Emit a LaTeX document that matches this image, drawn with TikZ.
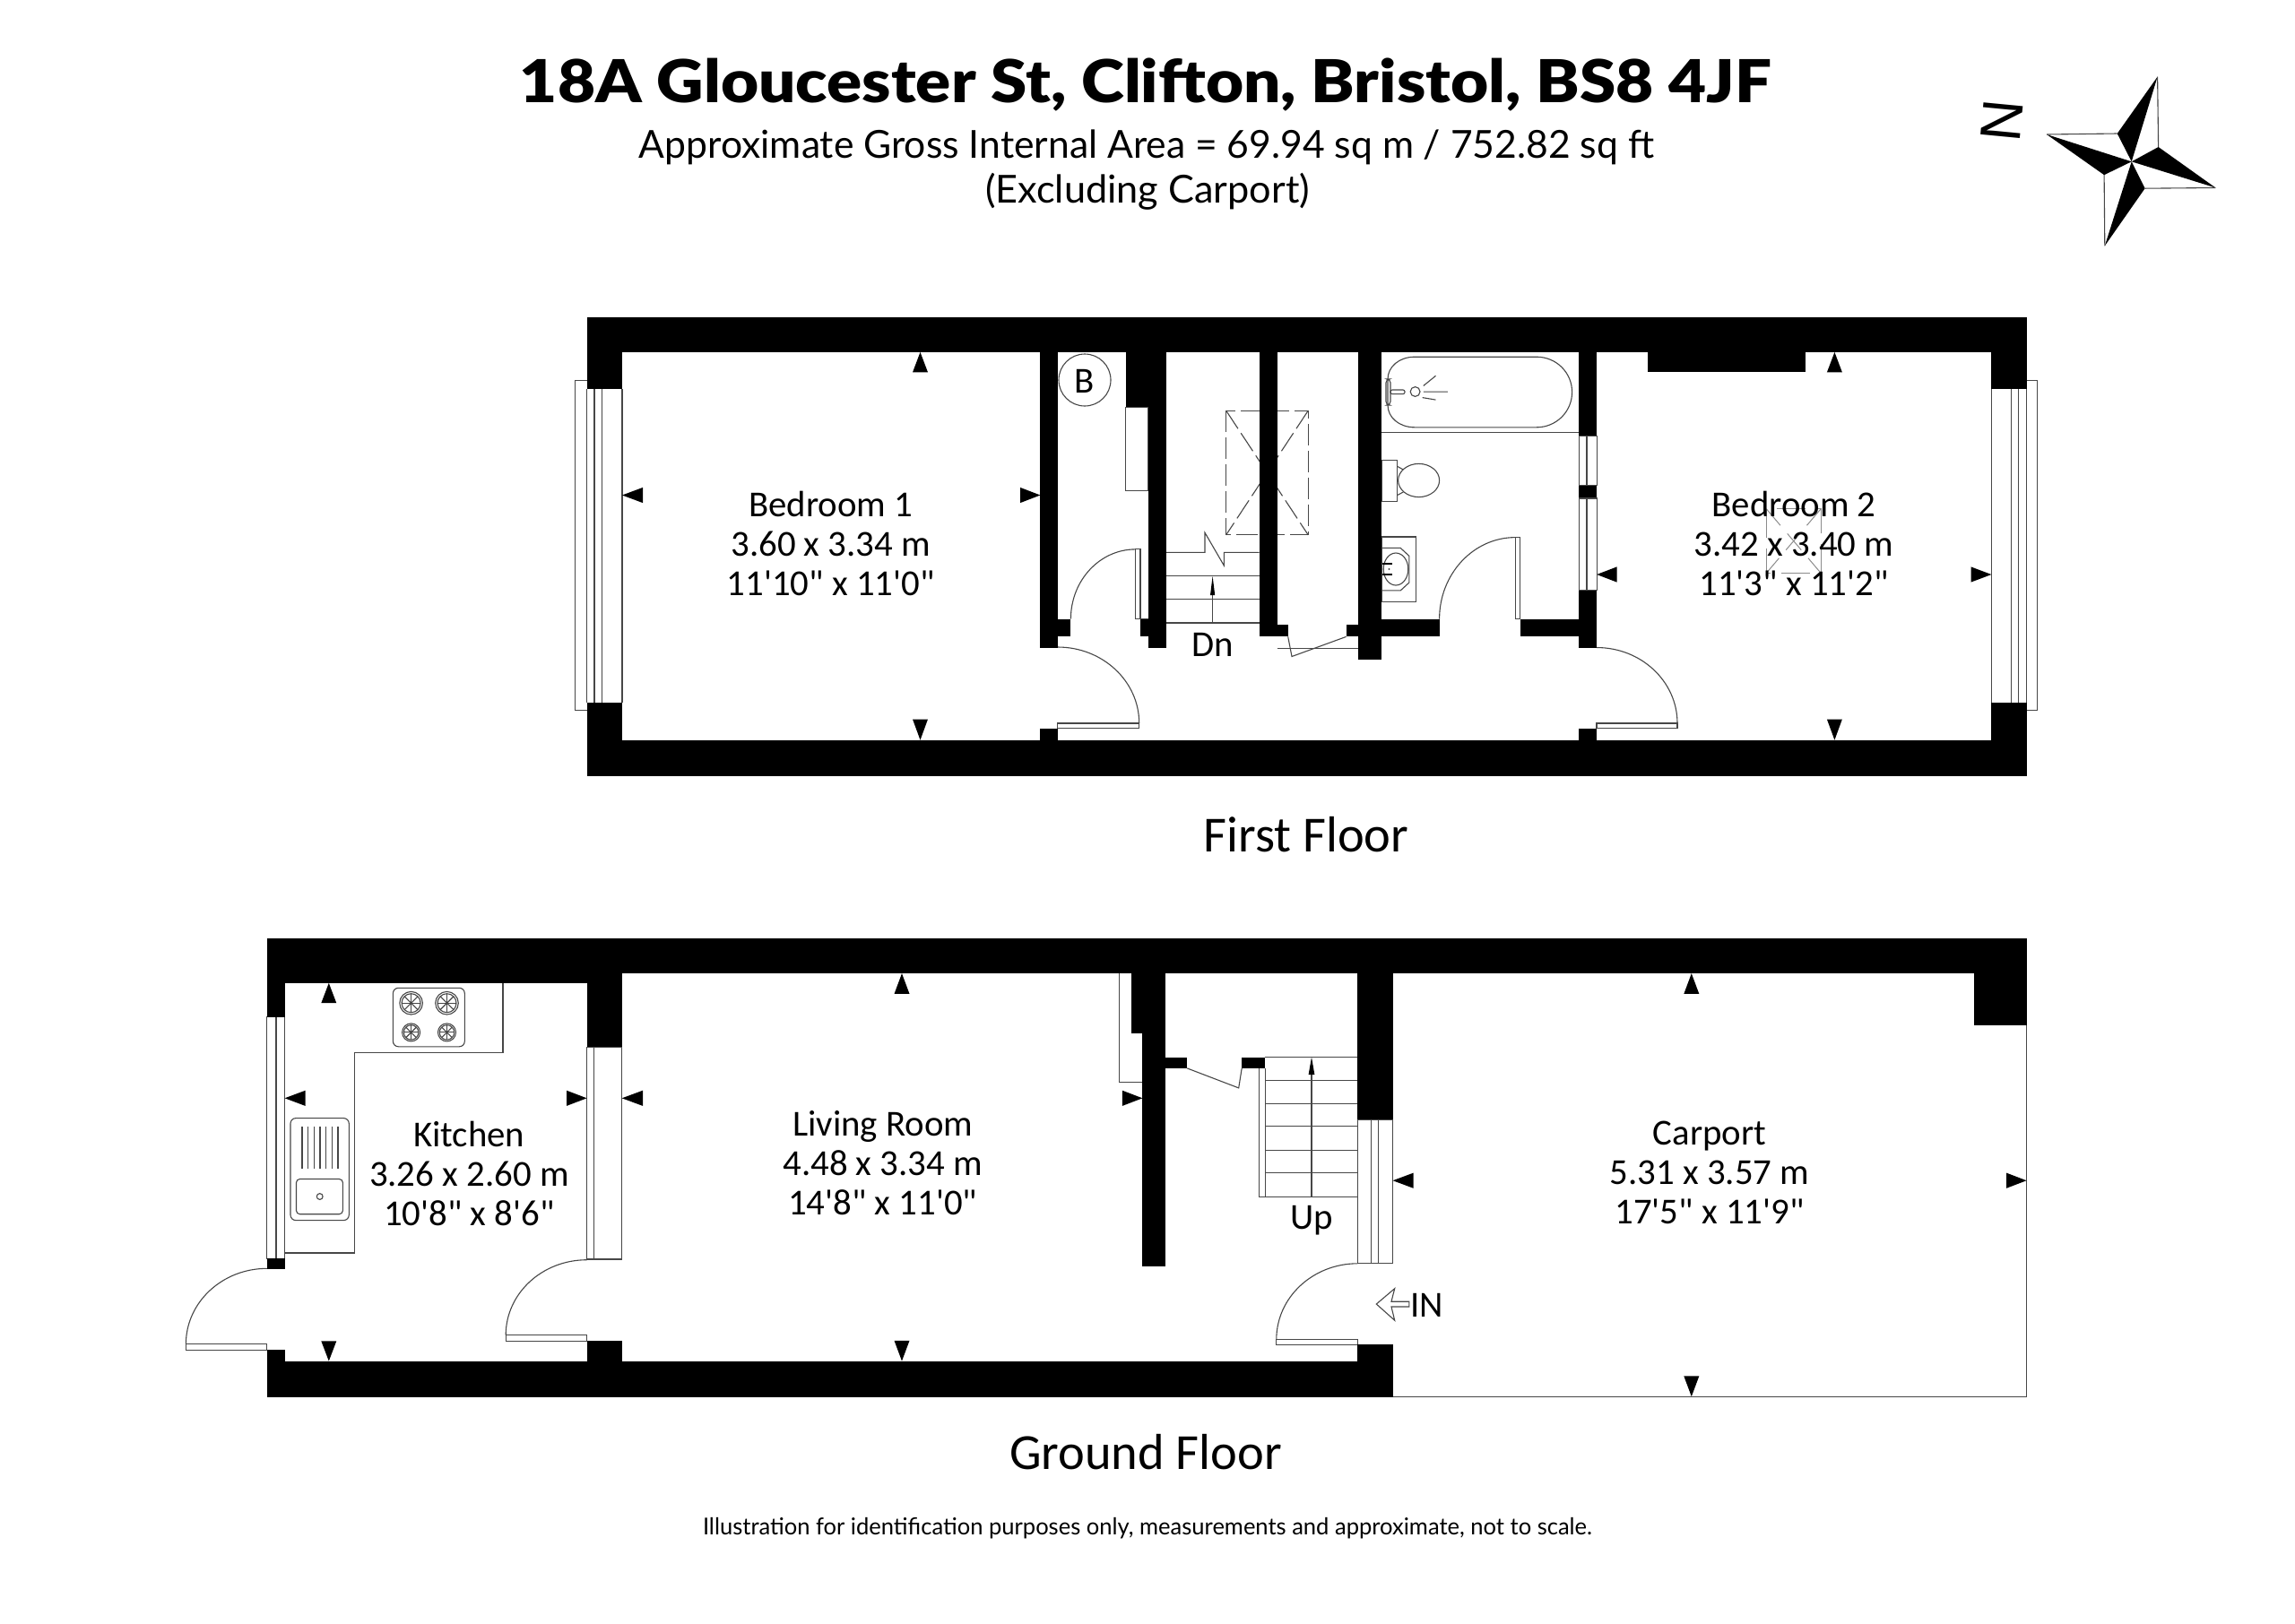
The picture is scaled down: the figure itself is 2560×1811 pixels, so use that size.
\documentclass[tikz,border=0pt]{standalone}
\usepackage{graphicx}
\usepackage{fontspec}
\setmainfont[Ligatures=TeXOff]{Carlito}
\newfontfamily\gillb{Lato Black}
\newfontfamily\gillr{Lato}
\newfontfamily\arialf{Liberation Sans}
\newcommand{\fitw}[2]{\resizebox{#1pt}{\height}{#2}}
% quarter ellipse: leaves (x1,y1) horizontally, arrives at (x2,y2) vertically
\newcommand{\qarc}[4]{\draw[thin line] (#1,#2) .. controls ({#1+0.5523*(#3-#1)},#2) and (#3,{#4-0.5523*(#4-#2)}) .. (#3,#4);}
% dimension arrowheads
\newcommand{\arV}[3]{\fill[wall] (#1,#2) -- ({#1-8.5},#3) -- ({#1+8.5},#3) -- cycle;}
\newcommand{\arH}[3]{\fill[wall] (#1,#3) -- (#2,{#3-8.6}) -- (#2,{#3+8.6}) -- cycle;}
\newcommand{\burner}[3]{%
  \draw[thin line] (#1,#2) circle[radius=#3];
  \draw[thin line] (#1,#2) circle[radius={#3*0.82}];
  \foreach \a in {0,45,...,315}{\draw[thin line] (#1,#2) -- ++(\a:{#3*0.82});}
}
\tikzset{
  wall/.style={fill=black},
  thin line/.style={draw=black!72,line width=0.55pt},
  roomlabel/.style={font=\fontsize{20.4}{22}\selectfont,align=center,inner sep=0pt,text=black},
  floorlabel/.style={font=\fontsize{28.2}{30}\selectfont,inner sep=0pt},
  dashline/.style={draw=black!72,line width=0.55pt,dash pattern=on 12pt off 3pt},
}
\begin{document}
\begin{tikzpicture}[x=0.5pt,y=-0.5pt]
\useasboundingbox (0,0) rectangle (2560,1811);
\fill[white] (0,0) rectangle (2560,1811);

% ---- titles
\node[inner sep=0pt,font=\gillb\fontsize{33}{36}\selectfont] (title) at (1278,95) {\fitw{698}{18A Gloucester St, Clifton, Bristol, BS8 4JF}};
\node[inner sep=0pt,font=\gillr\fontsize{21.5}{24}\selectfont] (area) at (1279,164) {\fitw{566}{Approximate Gross Internal Area = 69.94 sq m / 752.82 sq ft}};
\node[inner sep=0pt,font=\gillr\fontsize{21.5}{24}\selectfont] (excl) at (1280,214) {\fitw{181}{(Excluding Carport)}};
\node[inner sep=0pt,font=\gillr\fontsize{13}{15}\selectfont] (foot) at (1280,1705) {\fitw{496}{Illustration for identification purposes only, measurements and approximate, not to scale.}};

% ---- compass
\fill[black] (2377.7,180.3) -- (2406.6,85.6) -- (2361.7,149) -- cycle;
\fill[black] (2377.7,180.3) -- (2283,150) -- (2347.1,195.2) -- cycle;
\fill[black] (2377.7,180.3) -- (2347.8,274.3) -- (2392.6,210.2) -- cycle;
\fill[black] (2377.7,180.3) -- (2471.4,209.5) -- (2407.6,164) -- cycle;
\draw[thin line] (2406.6,85.6) -- (2407.6,164);
\draw[thin line] (2283,150) -- (2361.7,149);
\draw[thin line] (2347.8,274.3) -- (2347.1,195.2);
\draw[thin line] (2471.4,209.5) -- (2392.6,210.2);
\node[rotate=-95.5,inner sep=0pt,font=\arialf\fontsize{32}{34}\selectfont] (north) at (2233,135) {N};

% ======== FIRST FLOOR: thin work
% windows
\draw[thin line] (654.5,424.6) -- (641.8,424.6) -- (641.8,792.9) -- (654.5,792.9);
\draw[thin line] (663,434.3) -- (663,783.6) (671.5,434.3) -- (671.5,783.6) (694,434.3) -- (694,783.6) (654.5,434.3) -- (654.5,783.6);
\draw[thin line] (2260.7,424.6) -- (2272.4,424.6) -- (2272.4,792.9) -- (2260.7,792.9);
\draw[thin line] (2243.4,434.3) -- (2243.4,783.6) (2251.5,434.3) -- (2251.5,783.6) (2221.4,434.3) -- (2221.4,783.6) (2260.7,434.3) -- (2260.7,783.6);
% boiler
\draw[thin line] (1210,424) circle[radius=29];
\node[inner sep=0pt,font=\fontsize{20.4}{22}\selectfont] (boiler) at (1210,425) {B};
% cupboard
\draw[thin line] (1255.6,454.3) rectangle (1281,547.5);
% cupboard door
\draw[thin line] (1266.5,612.9) rectangle (1272,690.7);
\draw[thin line] (1272,612.9) -- (1272,690.7) (1266.5,690.7) -- (1281,690.7);
\qarc{1266.5}{612.9}{1194.4}{690.7}
% bedroom 1 door
\draw[thin line] (1179.8,807) rectangle (1270.7,812.9);
\qarc{1179.8}{722}{1270.7}{807}
% bedroom 2 door
\draw[thin line] (1781,807) rectangle (1871,812.9);
\qarc{1781}{722.5}{1871}{807}
% bathroom door
\draw[thin line] (1690.3,599.6) rectangle (1695.9,690.7);
\qarc{1690.3}{599.6}{1605.6}{690.7}
% stairs
\draw[thin line] (1301,616.4) -- (1344,616.4) -- (1344,594.3) -- (1365.3,631) -- (1365.3,616.4) -- (1404.6,616.4);
\draw[thin line] (1301,642.9) -- (1404.6,642.9) (1301,668.6) -- (1404.6,668.6) (1301,695) -- (1404.6,695);
\draw[thin line] (1352.6,695) -- (1352.6,660);
\fill[black] (1352.6,642.9) -- (1350,664) -- (1355.2,664) -- cycle;
% skylight landing
\draw[dashline] (1367.7,458.2) rectangle (1459.2,596.8);
\draw[dashline] (1367.7,458.2) -- (1459.2,596.8);
\draw[dashline] (1459.2,458.2) -- (1367.7,596.8);
% airing door
\draw[thin line] (1424.6,723.2) -- (1514.9,723.2);
\draw[thin line] (1436.7,710.4) -- (1441,732.5) -- (1501.6,710.4);
% bath
\draw[thin line] (1541,482.9) -- (1761.2,482.9);
\draw[thin line] (1578,398.2) -- (1714,398.2) .. controls (1736,398.2) and (1753.6,415.8) .. (1753.6,437.5) .. controls (1753.6,459.2) and (1736,476.8) .. (1714,476.8) -- (1578,476.8) .. controls (1561,476.8) and (1548,466) .. (1548,452) -- (1548,423) .. controls (1548,409) and (1561,398.2) .. (1578,398.2) -- cycle;
\draw[thin line,rounded corners=2pt] (1546,423) rectangle (1551,452);
\draw[thin line,rounded corners=1pt] (1551,435) rectangle (1567,439.6);
\draw[thin line] (1578.6,437) circle[radius=5.4];
\draw[thin line] (1587.8,430.4) -- (1601.5,419.3) (1587.8,437.1) -- (1614.8,437.1) (1586.7,443.6) -- (1601.5,446.1);
% wc
\draw[thin line] (1541,513.2) rectangle (1558.7,559.6);
\draw[thin line] (1582.6,536) ellipse[x radius=23,y radius=18.6];
\draw[thin line] (1558.7,520.4) -- (1565.3,524) (1558.7,552.5) -- (1565.3,549);
% basin
\draw[thin line] (1541,599) rectangle (1579.6,671.4);
\draw[thin line] (1541,611.4) -- (1562.2,611.4) -- (1571.9,620.4) -- (1571.9,650) -- (1562.2,658.9) -- (1541,658.9);
\draw[thin line] (1557,635) ellipse[x radius=13.8,y radius=18];
\draw[black,line width=0.9pt] (1542.3,629.3) -- (1552.5,629.3) (1542.3,641) -- (1552.5,641);
\fill[black!70] (1549.5,635) circle[radius=1.2];
% bedroom 2 skylight
\draw[black!45,line width=0.5pt,dash pattern=on 16pt off 6pt] (1970.4,567.9) rectangle (2031,639.3);
\draw[black!45,line width=0.5pt,dash pattern=on 12pt off 6pt] (1970.4,567.9) -- (2031,639.3);
\draw[black!45,line width=0.5pt,dash pattern=on 12pt off 6pt] (2031,567.9) -- (1970.4,639.3);

% ---- first floor walls
\fill[wall] (654.5,353.6) rectangle (2260.7,392.9);
\fill[wall] (654.5,825.7) rectangle (2260.7,865.5);
\fill[wall] (654.5,353.6) rectangle (694,434.3);
\fill[wall] (654.5,783.6) rectangle (694,865);
\fill[wall] (2221.4,353.6) rectangle (2260.7,434.3);
\fill[wall] (2221.4,783.6) rectangle (2260.7,865);
\fill[wall] (1160.4,392) rectangle (1179.8,722.5);
\fill[wall] (1160.4,690.7) rectangle (1194.4,710.4);
\fill[wall] (1160.4,812.9) rectangle (1179.8,826);
\fill[wall] (1255.6,392) rectangle (1301,454.3);
\fill[wall] (1281,454) rectangle (1301,723.2);
\fill[wall] (1272,690.7) rectangle (1281,710.4);
\fill[wall] (1404.6,392) rectangle (1424.6,710.4);
\fill[wall] (1404.6,696.8) rectangle (1436.7,710.4);
\fill[wall] (1514.9,392) rectangle (1541,736.4);
\fill[wall] (1501.6,696.8) rectangle (1515,710.4);
\fill[wall] (1541,690.7) rectangle (1605.6,710.4);
\fill[wall] (1695.9,690.7) rectangle (1761.2,710.4);
\fill[wall] (1761.2,392) rectangle (1781.1,486.4);
\fill[wall] (1761.2,541.8) rectangle (1781.1,556);
\fill[wall] (1761.2,658.6) rectangle (1781.1,722.5);
\fill[wall] (1761.2,812.9) rectangle (1781.1,826);
\fill[wall] (1838,392) rectangle (2013.8,414.6);
% windows in bathroom wall
\draw[thin line] (1761.2,486.4) rectangle (1781.1,541.8);
\draw[thin line] (1761.2,556) rectangle (1781.1,658.6);
\draw[thin line] (1770,486.4) -- (1770,541.8) (1770,556) -- (1770,658.6);

% ---- first floor arrows
\arV{1026.5}{392.9}{415.4}
\arV{1026.5}{825.7}{802.5}
\arH{694}{717}{552.5}
\arH{1160.4}{1138}{552.5}
\arV{2046.4}{392.9}{415.4}
\arV{2046.4}{825.7}{802.5}
\arH{1781.1}{1803.6}{641}
\arH{2221.4}{2198.5}{641}

% ---- first floor labels
\node[roomlabel] (bed1) at (926.7,606) {Bedroom 1\\3.60 x 3.34 m\\11'10" x 11'0"};
\node[roomlabel] (bed2) at (2001,606) {Bedroom 2\\3.42 x 3.40 m\\11'3" x 11'2"};
\node[inner sep=0pt,font=\fontsize{20.4}{22}\selectfont] (dn) at (1352.6,719) {Dn};
\node[floorlabel] (ff) at (1457,931) {First Floor};

% ======== GROUND FLOOR: thin work
% kitchen window
\draw[thin line] (297.9,1134.7) rectangle (317.6,1404.3);
\draw[thin line] (308,1134.7) -- (308,1404.3);
% kitchen back door
\draw[thin line] (207.4,1499.7) rectangle (297.9,1506.2);
\qarc{297.9}{1415.3}{207.4}{1499.7}
% living window
\draw[thin line] (654.6,1168.4) rectangle (693.7,1405);
\draw[thin line] (662.5,1168.4) -- (662.5,1405);
% living door
\draw[thin line] (564.2,1489.7) rectangle (654.6,1496.3);
\qarc{654.6}{1405.7}{564.2}{1489.7}
% counter
\draw[thin line] (317.6,1398) -- (395.2,1398) -- (395.2,1174.3) -- (561,1174.3) -- (561,1096.8);
% hob
\draw[thin line,rounded corners=3pt] (438.4,1102.3) rectangle (518.3,1167.8);
\burner{458.6}{1119.2}{12.8}
\burner{498.5}{1119.2}{12.8}
\burner{458.6}{1151.9}{10}
\burner{498.5}{1151.9}{10}
% sink
\draw[thin line,rounded corners=3pt] (324,1247.6) rectangle (389.3,1361.6);
\draw[thin line,rounded corners=2pt] (330.5,1315.5) rectangle (382.4,1354.7);
\draw[thin line] (337,1257) -- (337,1304) (343.7,1257) -- (343.7,1304) (350.3,1257) -- (350.3,1304) (357,1257) -- (357,1304) (363.7,1257) -- (363.7,1304) (370.3,1257) -- (370.3,1304) (377,1257) -- (377,1304);
\draw[thin line] (356.7,1335) circle[radius=3.4];
% cupboard under stairs
\draw[thin line] (1248.4,1086) -- (1248.4,1207.4) -- (1274.4,1207.4);
\draw[thin line] (1261.7,1152.6) -- (1274.4,1152.6) -- (1274.4,1207.4);
% door to stairs hall
\draw[thin line] (1324.2,1191.9) -- (1381.7,1213.9) -- (1385.2,1191.9);
% stairs
\draw[thin line] (1411.2,1179.5) -- (1514.3,1179.5);
\draw[thin line] (1404.1,1191.9) -- (1404.1,1335.1) (1411.2,1191.9) -- (1411.2,1335.1);
\draw[thin line] (1411.2,1205.3) -- (1514.3,1205.3) (1411.2,1231.5) -- (1514.3,1231.5) (1411.2,1256.9) -- (1514.3,1256.9) (1411.2,1283.1) -- (1514.3,1283.1) (1411.2,1308.9) -- (1514.3,1308.9) (1404.1,1335.1) -- (1514.3,1335.1);
\draw[thin line] (1463,1335.1) -- (1463,1195);
\fill[black] (1463,1179.5) -- (1459.6,1199) -- (1466.4,1199) -- cycle;
% hall window
\draw[thin line] (1514.3,1249.4) rectangle (1553.6,1409.8);
\draw[thin line] (1529.7,1249.4) -- (1529.7,1409.8) (1537.4,1249.4) -- (1537.4,1409.8);
% entrance door
\draw[thin line] (1423.8,1494.5) rectangle (1514.3,1500.7);
\qarc{1514.3}{1409.8}{1423.8}{1494.5}
% IN arrow
\draw[thin line] (1535.3,1455) -- (1555.7,1437.7) -- (1552,1452.2) -- (1571.8,1452.2) -- (1571.8,1458) -- (1552,1458) -- (1555.7,1473.2) -- cycle;
% carport outline
\draw[thin line] (2260.5,1144.3) -- (2260.5,1558.2) -- (1553.6,1558.2);

% ---- ground floor walls
\fill[wall] (297.9,1046.5) rectangle (2260.5,1086.1);
\fill[wall] (297.9,1086) rectangle (654.6,1096.8);
\fill[wall] (297.9,1096) rectangle (317.6,1134.7);
\fill[wall] (297.9,1404.3) rectangle (317.6,1415.7);
\fill[wall] (297.9,1505.6) rectangle (317.6,1558.8);
\fill[wall] (297.9,1518.6) rectangle (1553.6,1558.8);
\fill[wall] (654.6,1086) rectangle (693.7,1168.4);
\fill[wall] (654.6,1495.9) rectangle (693.7,1519);
\fill[wall] (1261.7,1086) rectangle (1300.3,1152.6);
\fill[wall] (1274.4,1152) rectangle (1300.3,1412.9);
\fill[wall] (1300.3,1179.5) rectangle (1324.2,1191.9);
\fill[wall] (1385.2,1179.5) rectangle (1411.2,1191.9);
\fill[wall] (1514.3,1086) rectangle (1553.6,1249.4);
\fill[wall] (1514.3,1500.4) rectangle (1553.6,1558.8);
\fill[wall] (2201.8,1086) rectangle (2260.5,1144.3);

% ---- ground floor arrows
\arV{366.8}{1096.8}{1119.2}
\arV{366.8}{1518.6}{1496.3}
\arH{317.6}{340.6}{1225.3}
\arH{654.6}{632}{1225.3}
\arH{693.7}{717}{1225.3}
\arH{1274.4}{1251.9}{1225.3}
\arV{1006}{1086.1}{1108.9}
\arV{1006}{1518.6}{1495.8}
\arV{1886.8}{1086.1}{1108.9}
\arV{1886.8}{1558.2}{1535.4}
\arH{1553.6}{1576.7}{1317.2}
\arH{2260.5}{2238}{1317.2}

% ---- ground floor labels
\node[roomlabel] (kitchen) at (523.3,1309) {Kitchen\\3.26 x 2.60 m\\10'8" x 8'6"};
\node[roomlabel] (living) at (984.7,1298) {Living Room\\4.48 x 3.34 m\\14'8" x 11'0"};
\node[roomlabel] (carport) at (1907,1308) {Carport\\5.31 x 3.57 m\\17'5" x 11'9"};
\node[inner sep=0pt,font=\fontsize{20.4}{22}\selectfont] (up) at (1463,1362) {Up};
\node[inner sep=0pt,font=\fontsize{20.4}{22}\selectfont] (in) at (1591.4,1456) {IN};
\node[floorlabel] (gf) at (1278,1620) {Ground Floor};
\end{tikzpicture}
\end{document}
